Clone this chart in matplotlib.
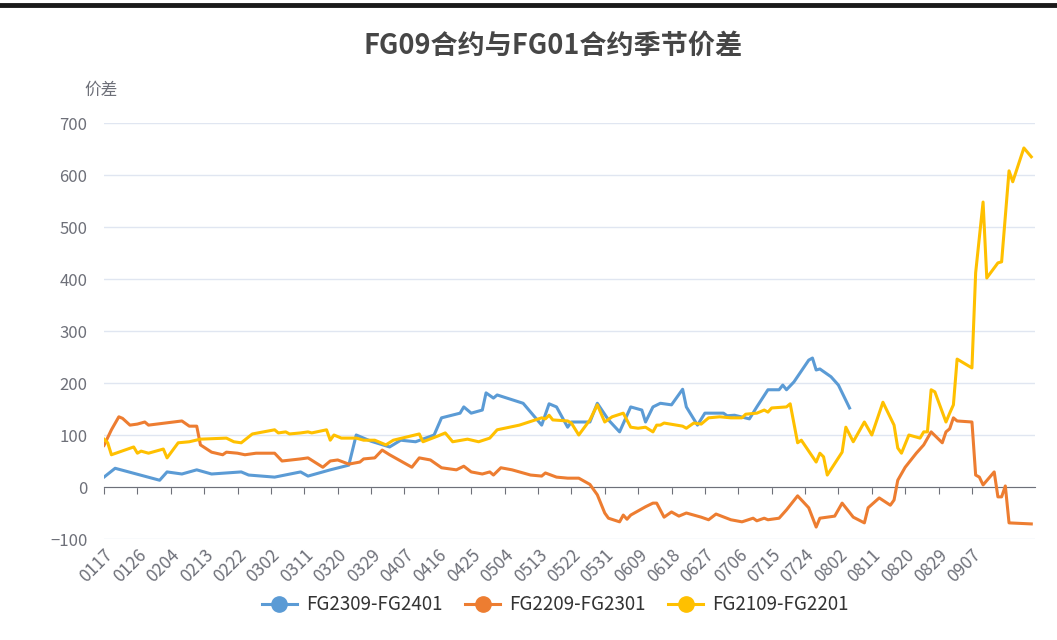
import matplotlib
matplotlib.use('Agg')
import matplotlib.pyplot as plt
import pandas as pd
from matplotlib.lines import Line2D

plt.rcParams['font.family'] = ['Noto Sans CJK SC', 'DejaVu Sans']

# category axis: every calendar day (MMDD), leap year so 0229 is included
categories = list(pd.date_range('2024-01-17', '2024-09-24').strftime('%m%d'))
tick_idx = list(range(0, 235, 9))

names = ['FG2309-FG2401', 'FG2209-FG2301', 'FG2109-FG2201']
colors = ['#5B9BD5', '#ED7D31', '#FFC000']

fg2309_dates = ['0117', '0120', '0201', '0203', '0207', '0211', '0215', '0223', '0225', '0303',
                '0310', '0312', '0318', '0323', '0325', '0329', '0403', '0406', '0410', '0415',
                '0417', '0422', '0423', '0425', '0428', '0429', '0501', '0502', '0509', '0514',
                '0516', '0518', '0521', '0522', '0527', '0529', '0601', '0604', '0607', '0610',
                '0611', '0613', '0615', '0618', '0621', '0622', '0625', '0627', '0702', '0703',
                '0705', '0709', '0711', '0714', '0717', '0718', '0719', '0721', '0725', '0726',
                '0727', '0728', '0731', '0802', '0805']
fg2309_vals = [19, 36, 13, 29, 25, 33, 25, 29, 23, 19,
               29, 21, 33, 42, 100, 88, 77, 90, 87, 100,
               133, 142, 154, 142, 148, 181, 171, 177, 161, 119,
               160, 154, 115, 125, 125, 161, 129, 106, 154, 148,
               125, 154, 161, 158, 188, 154, 119, 142, 142, 137,
               138, 131, 154, 187, 187, 196, 187, 202, 244, 248,
               225, 227, 212, 196, 152]

fg2209_dates = ['0117', '0119', '0121', '0122', '0124', '0126', '0128', '0129', '0207', '0209',
                '0211', '0212', '0215', '0218', '0219', '0222', '0224', '0227', '0303', '0305',
                '0310', '0312', '0316', '0318', '0320', '0323', '0326', '0327', '0330', '0401',
                '0403', '0409', '0411', '0414', '0417', '0421', '0423', '0425', '0428', '0430',
                '0501', '0503', '0506', '0511', '0514', '0515', '0518', '0521', '0524', '0527',
                '0529', '0531', '0601', '0604', '0605', '0606', '0607', '0611', '0613', '0614',
                '0616', '0618', '0620', '0622', '0626', '0628', '0630', '0704', '0707', '0710',
                '0711', '0713', '0714', '0717', '0719', '0720', '0722', '0725', '0727', '0728',
                '0801', '0803', '0806', '0809', '0810', '0813', '0816', '0817', '0818', '0820',
                '0823', '0825', '0827', '0830', '0831', '0901', '0902', '0903', '0907', '0908',
                '0909', '0910', '0913', '0914', '0915', '0916', '0917', '0923']
fg2209_vals = [80, 110, 135, 132, 119, 121, 125, 119, 127, 117,
               117, 81, 67, 62, 67, 65, 62, 65, 65, 50,
               54, 56, 38, 50, 52, 44, 48, 54, 56, 71,
               62, 38, 56, 52, 37, 33, 40, 29, 25, 29,
               23, 37, 33, 23, 21, 27, 19, 17, 17, 5,
               -15, -50, -60, -67, -54, -62, -54, -38, -31, -31,
               -58, -48, -56, -50, -58, -63, -52, -63, -67, -60,
               -65, -60, -63, -60, -44, -35, -17, -40, -77, -60,
               -56, -31, -58, -69, -40, -21, -35, -25, 13, 38,
               65, 81, 106, 85, 106, 112, 133, 127, 125, 23,
               19, 4, 29, -19, -19, 2, -69, -71]

fg2109_dates = ['0117', '0118', '0119', '0121', '0125', '0126', '0127', '0129', '0202', '0203',
                '0206', '0209', '0212', '0219', '0221', '0223', '0226', '0303', '0304', '0306',
                '0307', '0310', '0312', '0313', '0317', '0318', '0319', '0321', '0325', '0327',
                '0330', '0402', '0404', '0411', '0412', '0416', '0418', '0420', '0424', '0427',
                '0430', '0502', '0508', '0514', '0515', '0516', '0517', '0521', '0522', '0524',
                '0527', '0529', '0531', '0602', '0605', '0607', '0609', '0611', '0613', '0614',
                '0615', '0616', '0621', '0622', '0624', '0626', '0628', '0701', '0704', '0707',
                '0708', '0711', '0713', '0714', '0715', '0719', '0720', '0722', '0723', '0727',
                '0728', '0729', '0730', '0803', '0804', '0806', '0809', '0811', '0814', '0817',
                '0818', '0819', '0821', '0824', '0825', '0826', '0827', '0828', '0831', '0901',
                '0902', '0903', '0907', '0908', '0910', '0911', '0914', '0915', '0917', '0918',
                '0921', '0923']
fg2109_vals = [92, 85, 62, 67, 77, 65, 69, 65, 73, 56,
               85, 87, 92, 94, 87, 85, 102, 110, 104, 106,
               102, 104, 106, 104, 110, 90, 100, 94, 94, 90,
               90, 81, 90, 102, 87, 98, 104, 87, 92, 87,
               94, 110, 119, 133, 131, 138, 129, 127, 123, 100,
               129, 158, 125, 135, 142, 115, 113, 115, 106, 119,
               119, 123, 117, 113, 123, 121, 133, 135, 133, 133,
               140, 142, 148, 144, 152, 154, 160, 85, 90, 48,
               65, 58, 23, 67, 115, 87, 125, 100, 163, 119,
               75, 65, 100, 94, 106, 106, 187, 183, 125, 142,
               158, 246, 229, 412, 548, 402, 431, 433, 608, 587,
               652, 635]

series = [(fg2309_dates, fg2309_vals), (fg2209_dates, fg2209_vals), (fg2109_dates, fg2109_vals)]

W, H = 1057, 640
fig = plt.figure(figsize=(W / 100, H / 100), dpi=100)
ax = fig.add_axes([104 / W, (H - 539) / H, (1035 - 104) / W, (539 - 123) / H])

for (dates, vals), c in zip(series, colors):
    xs = [categories.index(d) for d in dates]
    ax.plot(xs, vals, color=c, lw=2.2, solid_joinstyle='round', zorder=3)

axis_grey = '#6E7079'
ax.set_xlim(0, len(categories) - 1)
ax.set_ylim(-100, 700)
ax.set_yticks(range(-100, 701, 100))
ax.yaxis.grid(True, color='#E0E6F1', lw=1)
ax.set_axisbelow(True)
for s in ['top', 'right', 'left']:
    ax.spines[s].set_visible(False)
ax.spines['bottom'].set_position(('data', 0))
ax.spines['bottom'].set_color(axis_grey)
ax.spines['bottom'].set_zorder(2)
ax.set_xticks(tick_idx)
ax.tick_params(axis='x', length=5, color=axis_grey, labelbottom=False)
ax.tick_params(axis='y', length=0, pad=12, labelsize=12, labelcolor=axis_grey)

# date labels sit below the plot area, not on the zero line
sec = ax.secondary_xaxis(0)
sec.set_xticks(tick_idx, [categories[i] for i in tick_idx])
sec.spines['bottom'].set_visible(False)
sec.tick_params(length=0, pad=5, labelsize=12.5, labelcolor=axis_grey)
plt.setp(sec.get_xticklabels(), rotation=45, ha='right', rotation_mode='anchor')

fig.text(101 / W, 1 - 90 / H, '价差', ha='center', va='center', fontsize=12, color=axis_grey)
fig.text(553 / W, 1 - 46 / H, 'FG09合约与FG01合约季节价差', ha='center', va='center',
         fontsize=19.5, fontweight='bold', color='#464646')

handles = [Line2D([0], [0], color=c, lw=2.2, marker='o', markersize=11) for c in colors]
fig.legend(handles, names, loc='center', bbox_to_anchor=(555 / W, 1 - 605 / H), ncol=3,
           frameon=False, handlelength=1.9, columnspacing=1.2, handletextpad=0.45,
           fontsize=13.5, labelcolor='#333333')

# dark border strip along the top of the screenshot
fig.add_artist(Line2D([0, 1], [1 - 5 / H, 1 - 5 / H], color='#1a1a1a', lw=3.5))

fig.savefig('out.png', dpi=100)
